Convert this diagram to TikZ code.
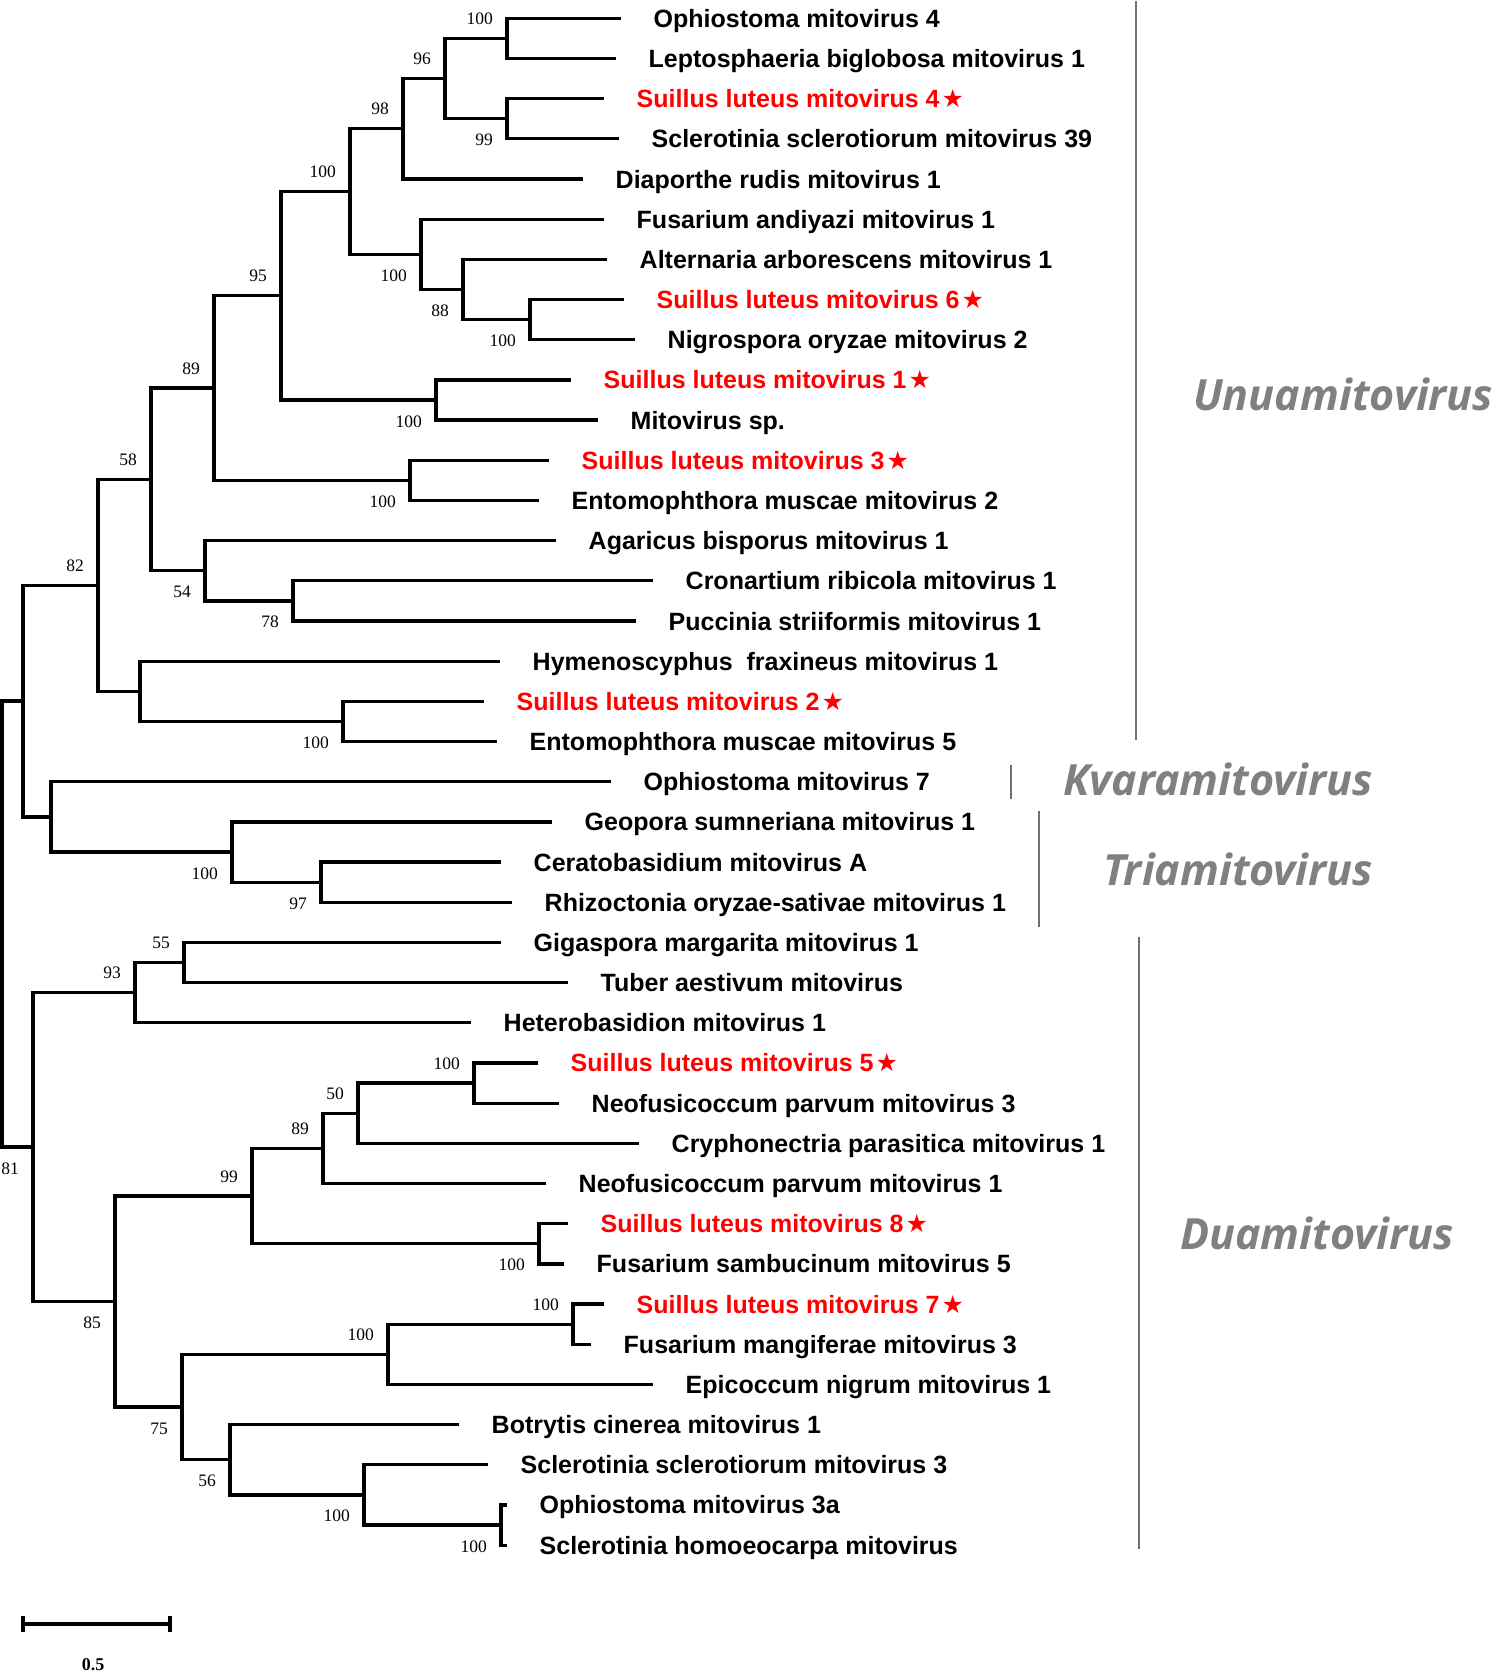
\documentclass[tikz,border=0pt]{standalone}
\usepackage{fontspec}
\usepackage{xcolor}

\newfontfamily\arialfont{Liberation Sans}
\newfontfamily\timesfont{Liberation Serif}
\newfontfamily\genusfamily{Open Sans}
\newfontfamily\starfont{DejaVu Sans}

\definecolor{slred}{RGB}{255,0,0}
\definecolor{genusgray}{RGB}{128,128,128}
\definecolor{bargray}{RGB}{112,112,112}

\newcommand{\leaffont}{\arialfont\bfseries\fontsize{25}{30}\selectfont}
\newcommand{\bootfont}{\timesfont\fontsize{17.5}{20}\selectfont}
\newcommand{\genusfont}{\genusfamily\bfseries\itshape\fontsize{43}{50}\selectfont}
\newcommand{\slstar}{\hspace{2pt}{\starfont\fontsize{25}{28}\selectfont ★}}

\tikzset{
  branch/.style={line width=3.3pt},
  leaf/.style={anchor=west, xshift=32.5pt, inner sep=0pt,
    text height=18pt, text depth=0pt, font=\leaffont},
  slleaf/.style={leaf, text=slred},
  boot/.style={anchor=east, inner sep=0pt, xshift=-14pt,
    text height=12pt, text depth=0pt, font=\bootfont},
  bootup/.style={boot, yshift=20pt},
  bootdn/.style={boot, yshift=-21pt},
  genus/.style={anchor=west, inner sep=0pt, text=genusgray,
    text height=30pt, text depth=0pt, font=\genusfont},
  genusbar/.style={line width=2.8pt, draw=bargray}
}

\begin{document}
\begin{tikzpicture}[x=1pt, y=-40.18pt]
  \useasboundingbox (0,-0.4555) rectangle (1497,41.182);

  % Leaves (one row each)
  \coordinate (t0) at (621, 0);   \node[leaf] (l0) at (t0) {Ophiostoma mitovirus 4};
  \coordinate (t1) at (616, 1);   \node[leaf] (l1) at (t1) {Leptosphaeria biglobosa mitovirus 1};
  \coordinate (t2) at (604, 2);   \node[slleaf] (l2) at (t2) {Suillus luteus mitovirus 4\slstar};
  \coordinate (t3) at (619, 3);   \node[leaf] (l3) at (t3) {Sclerotinia sclerotiorum mitovirus 39};
  \coordinate (t4) at (583, 4);   \node[leaf] (l4) at (t4) {Diaporthe rudis mitovirus 1};
  \coordinate (t5) at (604, 5);   \node[leaf] (l5) at (t5) {Fusarium andiyazi mitovirus 1};
  \coordinate (t6) at (607, 6);   \node[leaf] (l6) at (t6) {Alternaria arborescens mitovirus 1};
  \coordinate (t7) at (624, 7);   \node[slleaf] (l7) at (t7) {Suillus luteus mitovirus 6\slstar};
  \coordinate (t8) at (635, 8);   \node[leaf] (l8) at (t8) {Nigrospora oryzae mitovirus 2};
  \coordinate (t9) at (571, 9);   \node[slleaf] (l9) at (t9) {Suillus luteus mitovirus 1\slstar};
  \coordinate (t10) at (598, 10); \node[leaf] (l10) at (t10) {Mitovirus sp.};
  \coordinate (t11) at (549, 11); \node[slleaf] (l11) at (t11) {Suillus luteus mitovirus 3\slstar};
  \coordinate (t12) at (539, 12); \node[leaf] (l12) at (t12) {Entomophthora muscae mitovirus 2};
  \coordinate (t13) at (556, 13); \node[leaf] (l13) at (t13) {Agaricus bisporus mitovirus 1};
  \coordinate (t14) at (653, 14); \node[leaf] (l14) at (t14) {Cronartium ribicola mitovirus 1};
  \coordinate (t15) at (636, 15); \node[leaf] (l15) at (t15) {Puccinia striiformis mitovirus 1};
  \coordinate (t16) at (500, 16); \node[leaf] (l16) at (t16) {Hymenoscyphus\ \ fraxineus mitovirus 1};
  \coordinate (t17) at (484, 17); \node[slleaf] (l17) at (t17) {Suillus luteus mitovirus 2\slstar};
  \coordinate (t18) at (497, 18); \node[leaf] (l18) at (t18) {Entomophthora muscae mitovirus 5};
  \coordinate (t19) at (611, 19); \node[leaf] (l19) at (t19) {Ophiostoma mitovirus 7};
  \coordinate (t20) at (552, 20); \node[leaf] (l20) at (t20) {Geopora sumneriana mitovirus 1};
  \coordinate (t21) at (501, 21); \node[leaf] (l21) at (t21) {Ceratobasidium mitovirus A};
  \coordinate (t22) at (512, 22); \node[leaf] (l22) at (t22) {Rhizoctonia oryzae-sativae mitovirus 1};
  \coordinate (t23) at (501, 23); \node[leaf] (l23) at (t23) {Gigaspora margarita mitovirus 1};
  \coordinate (t24) at (568, 24); \node[leaf] (l24) at (t24) {Tuber aestivum mitovirus};
  \coordinate (t25) at (471, 25); \node[leaf] (l25) at (t25) {Heterobasidion mitovirus 1};
  \coordinate (t26) at (538, 26); \node[slleaf] (l26) at (t26) {Suillus luteus mitovirus 5\slstar};
  \coordinate (t27) at (559, 27); \node[leaf] (l27) at (t27) {Neofusicoccum parvum mitovirus 3};
  \coordinate (t28) at (639, 28); \node[leaf] (l28) at (t28) {Cryphonectria parasitica mitovirus 1};
  \coordinate (t29) at (546, 29); \node[leaf] (l29) at (t29) {Neofusicoccum parvum mitovirus 1};
  \coordinate (t30) at (568, 30); \node[slleaf] (l30) at (t30) {Suillus luteus mitovirus 8\slstar};
  \coordinate (t31) at (564, 31); \node[leaf] (l31) at (t31) {Fusarium sambucinum mitovirus 5};
  \coordinate (t32) at (604, 32); \node[slleaf] (l32) at (t32) {Suillus luteus mitovirus 7\slstar};
  \coordinate (t33) at (591, 33); \node[leaf] (l33) at (t33) {Fusarium mangiferae mitovirus 3};
  \coordinate (t34) at (653, 34); \node[leaf] (l34) at (t34) {Epicoccum nigrum mitovirus 1};
  \coordinate (t35) at (459, 35); \node[leaf] (l35) at (t35) {Botrytis cinerea mitovirus 1};
  \coordinate (t36) at (488, 36); \node[leaf] (l36) at (t36) {Sclerotinia sclerotiorum mitovirus 3};
  \coordinate (t37) at (507, 37); \node[leaf] (l37) at (t37) {Ophiostoma mitovirus 3a};
  \coordinate (t38) at (507, 38); \node[leaf] (l38) at (t38) {Sclerotinia homoeocarpa mitovirus};

  % Unuamitovirus clade
  \coordinate (n1) at (507, 0.5);
  \draw[branch] (t0) -| (n1) |- (t1);
  \node[bootup] (b1) at (n1) {100};
  \coordinate (n2) at (507, 2.5);
  \draw[branch] (t2) -| (n2) |- (t3);
  \node[bootdn] (b2) at (n2) {99};
  \coordinate (n3) at (445, 1.5);
  \draw[branch] (n1) -| (n3) |- (n2);
  \node[bootup] (b3) at (n3) {96};
  \coordinate (n4) at (403, 2.75);
  \draw[branch] (n3) -| (n4) |- (t4);
  \node[bootup] (b4) at (n4) {98};
  \coordinate (n5) at (530, 7.5);
  \draw[branch] (t7) -| (n5) |- (t8);
  \node[bootdn] (b5) at (n5) {100};
  \coordinate (n6) at (463, 6.75);
  \draw[branch] (t6) -| (n6) |- (n5);
  \node[bootdn] (b6) at (n6) {88};
  \coordinate (n7) at (421, 5.875);
  \draw[branch] (t5) -| (n7) |- (n6);
  \node[bootdn] (b7) at (n7) {100};
  \coordinate (n8) at (350, 4.3125);
  \draw[branch] (n4) -| (n8) |- (n7);
  \node[bootup] (b8) at (n8) {100};
  \coordinate (n9) at (436, 9.5);
  \draw[branch] (t9) -| (n9) |- (t10);
  \node[bootdn] (b9) at (n9) {100};
  \coordinate (n10) at (281, 6.90625);
  \draw[branch] (n8) -| (n10) |- (n9);
  \node[bootup] (b10) at (n10) {95};
  \coordinate (n11) at (410, 11.5);
  \draw[branch] (t11) -| (n11) |- (t12);
  \node[bootdn] (b11) at (n11) {100};
  \coordinate (n12) at (214, 9.203);
  \draw[branch] (n10) -| (n12) |- (n11);
  \node[bootup] (b12) at (n12) {89};
  \coordinate (n13) at (293, 14.5);
  \draw[branch] (t14) -| (n13) |- (t15);
  \node[bootdn] (b13) at (n13) {78};
  \coordinate (n14) at (205, 13.75);
  \draw[branch] (t13) -| (n14) |- (n13);
  \node[bootdn] (b14) at (n14) {54};
  \coordinate (n15) at (151, 11.477);
  \draw[branch] (n12) -| (n15) |- (n14);
  \node[bootup] (b15) at (n15) {58};
  \coordinate (n16) at (343, 17.5);
  \draw[branch] (t17) -| (n16) |- (t18);
  \node[bootdn] (b16) at (n16) {100};
  \coordinate (n17) at (140, 16.75);
  \draw[branch] (t16) -| (n17) |- (n16);
  \coordinate (n18) at (98, 14.113);
  \draw[branch] (n15) -| (n18) |- (n17);
  \node[bootup] (b18) at (n18) {82};

  % Kvaramitovirus / Triamitovirus
  \coordinate (n19) at (321, 21.5);
  \draw[branch] (t21) -| (n19) |- (t22);
  \node[bootdn] (b19) at (n19) {97};
  \coordinate (n20) at (232, 20.75);
  \draw[branch] (t20) -| (n20) |- (n19);
  \node[bootdn] (b20) at (n20) {100};
  \coordinate (n21) at (51, 19.875);
  \draw[branch] (t19) -| (n21) |- (n20);
  \coordinate (n22) at (23, 16.994);
  \draw[branch] (n18) -| (n22) |- (n21);

  % Duamitovirus clade
  \coordinate (n23) at (184, 23.5);
  \draw[branch] (t23) -| (n23) |- (t24);
  \node[bootup] (b23) at (n23) {55};
  \coordinate (n24) at (135, 24.25);
  \draw[branch] (n23) -| (n24) |- (t25);
  \node[bootup] (b24) at (n24) {93};
  \coordinate (n25) at (474, 26.5);
  \draw[branch] (t26) -| (n25) |- (t27);
  \node[bootup] (b25) at (n25) {100};
  \coordinate (n26) at (358, 27.25);
  \draw[branch] (n25) -| (n26) |- (t28);
  \node[bootup] (b26) at (n26) {50};
  \coordinate (n27) at (323, 28.125);
  \draw[branch] (n26) -| (n27) |- (t29);
  \node[bootup] (b27) at (n27) {89};
  \coordinate (n28) at (539, 30.5);
  \draw[branch] (t30) -| (n28) |- (t31);
  \node[bootdn] (b28) at (n28) {100};
  \coordinate (n29) at (252, 29.3125);
  \draw[branch] (n27) -| (n29) |- (n28);
  \node[bootup] (b29) at (n29) {99};
  \coordinate (n30) at (573, 32.5);
  \draw[branch] (t32) -| (n30) |- (t33);
  \node[bootup] (b30) at (n30) {100};
  \coordinate (n31) at (388, 33.25);
  \draw[branch] (n30) -| (n31) |- (t34);
  \node[bootup] (b31) at (n31) {100};
  \coordinate (n32) at (501, 37.5);
  \draw[branch] (t37) -| (n32) |- (t38);
  \node[bootdn] (b32) at (n32) {100};
  \coordinate (n33) at (364, 36.75);
  \draw[branch] (t36) -| (n33) |- (n32);
  \node[bootdn] (b33) at (n33) {100};
  \coordinate (n34) at (230, 35.875);
  \draw[branch] (t35) -| (n34) |- (n33);
  \node[bootdn] (b34) at (n34) {56};
  \coordinate (n35) at (182, 34.5625);
  \draw[branch] (n31) -| (n35) |- (n34);
  \node[bootdn] (b35) at (n35) {75};
  \coordinate (n36) at (115, 31.9375);
  \draw[branch] (n29) -| (n36) |- (n35);
  \node[bootdn] (b36) at (n36) {85};
  \coordinate (n37) at (33, 28.094);
  \draw[branch] (n24) -| (n37) |- (n36);
  \node[bootdn] (b37) at (n37) {81};

  % Root
  \coordinate (root) at (2, 22.544);
  \draw[branch] (n22) -| (root) |- (n37);

  % Genus bars and names
  \coordinate (ua) at (1136, -0.43);  \coordinate (ub) at (1136, 17.96);
  \draw[genusbar] (ua) -- (ub);
  \node[genus] (gu) at (1193, 9.40) {Unuamitovirus};
  \coordinate (ka) at (1011, 18.58);  \coordinate (kb) at (1011, 19.43);
  \draw[genusbar] (ka) -- (kb);
  \node[genus] (gk) at (1063, 18.96) {Kvaramitovirus};
  \coordinate (ta) at (1039, 19.73);  \coordinate (tb) at (1039, 22.62);
  \draw[genusbar] (ta) -- (tb);
  \node[genus] (gt) at (1103, 21.22) {Triamitovirus};
  \coordinate (da) at (1139, 22.87);  \coordinate (db) at (1139, 38.10);
  \draw[genusbar] (da) -- (db);
  \node[genus] (gd) at (1180, 30.28) {Duamitovirus};

  % Scale bar
  \coordinate (sbL) at (23, 39.96);
  \coordinate (sbR) at (170, 39.96);
  \draw[branch] (sbL) -- (sbR);
  \draw[branch] ([yshift=8pt]sbL) -- ([yshift=-8pt]sbL);
  \draw[branch] ([yshift=8pt]sbR) -- ([yshift=-8pt]sbR);
  \node[inner sep=0pt, text height=12pt, text depth=0pt,
    font=\timesfont\bfseries\fontsize{18}{20}\selectfont] (sbT) at (93, 40.96) {0.5};
\end{tikzpicture}
\end{document}
